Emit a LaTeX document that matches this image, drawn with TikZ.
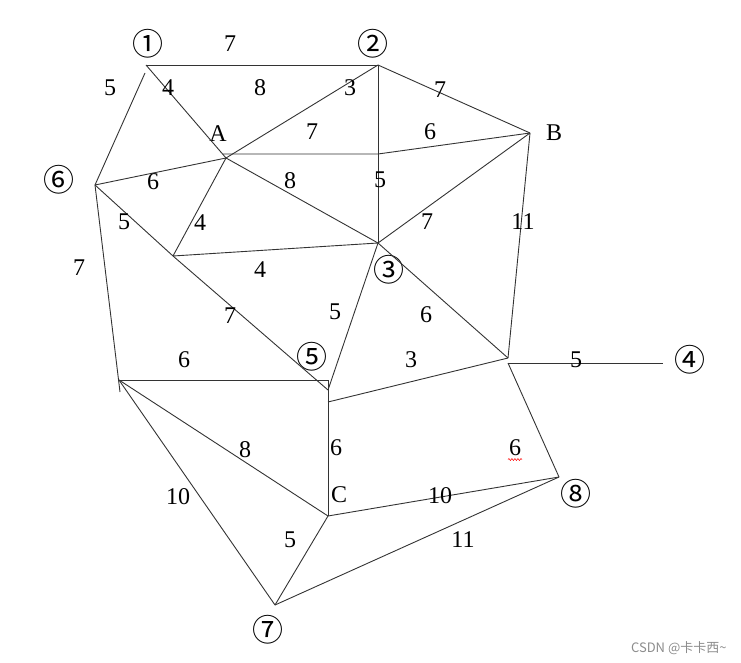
\documentclass[tikz,border=0pt]{standalone}
\usepackage{fontspec}
\setmainfont{Liberation Serif}
\newfontfamily\cjk{Noto Sans CJK SC}
\usetikzlibrary{decorations.pathmorphing}

\begin{document}
\begin{tikzpicture}[x=1pt, y=-1pt, line width=0.9pt,
    wt/.style = {font=\fontsize{24}{24}\selectfont, inner sep=0pt},
    num/.style = {font=\cjk\fontsize{31}{31}\selectfont, inner sep=0pt},
    edge/.style = {draw=black!80}]
    \useasboundingbox (0,0) rectangle (741,663);

    % corners of the drawing
    \coordinate (P1) at (146,65);
    \coordinate (P1b) at (145,73);
    \coordinate (P2) at (378,65);
    \coordinate (PA) at (226,158);
    \coordinate (PAh) at (223,154);
    \coordinate (PB) at (530,133);
    \coordinate (PM) at (378,154);
    \coordinate (P6) at (95,185);
    \coordinate (PX) at (173,256);
    \coordinate (P3) at (378,243);
    \coordinate (PL) at (119,380);
    \coordinate (PLt) at (120,392);
    \coordinate (P5) at (328,380);
    \coordinate (P5a) at (328,390);
    \coordinate (P5b) at (328,402);
    \coordinate (PC) at (328,516);
    \coordinate (PQ) at (508,358);
    \coordinate (PQh) at (508,363);
    \coordinate (P4) at (663,363);
    \coordinate (P8) at (559,477);
    \coordinate (P7) at (275,605);

    % vertex names
    \node[num] (n1) at (148,44) {①};
    \node[num] (n2) at (373,44) {②};
    \node[num] (n3) at (389,270) {③};
    \node[num] (n4) at (690,360) {④};
    \node[num] (n5) at (312,357) {⑤};
    \node[num] (n6) at (59,180) {⑥};
    \node[num] (n7) at (268,630) {⑦};
    \node[num] (n8) at (576,494) {⑧};
    \node[wt] (nA) at (218,134) {A};
    \node[wt] (nB) at (554,133) {B};
    \node[wt] (nC) at (339,495) {C};

    % lines
    \draw[edge] (P1) -- (P2);
    \draw[edge] (P1) -- (PA);
    \draw[edge] (P1b) -- (P6);
    \draw[edge] (P2) -- (PB);
    \draw[edge] (P2) -- (PA);
    \draw[edge] (P2) -- (P3);
    \draw[edge] (PAh) -- (PM) -- (PB);
    \draw[edge] (PA) -- (P6);
    \draw[edge] (PA) -- (P3);
    \draw[edge] (PA) -- (PX);
    \draw[edge] (P3) -- (PB);
    \draw[edge] (PB) -- (PQ);
    \draw[edge] (P6) -- (PX) -- (P5a);
    \draw[edge] (PX) -- (P3);
    \draw[edge] (P6) -- (PLt);
    \draw[edge] (P3) -- (P5a);
    \draw[edge] (P3) -- (PQ);
    \draw[edge] (PQh) -- (P4);
    \draw[edge] (PQh) -- (P8);
    \draw[edge] (PL) -- (P5) -- (PC);
    \draw[edge] (P5b) -- (PQ);
    \draw[edge] (PL) -- (PC);
    \draw[edge] (PL) -- (P7);
    \draw[edge] (PC) -- (P7);
    \draw[edge] (PC) -- (P8);
    \draw[edge] (P7) -- (P8);

    % weights
    \node[wt] (w12) at (230,44) {7};
    \node[wt] (w1A) at (168,88) {4};
    \node[wt] (w16) at (110,88) {5};
    \node[wt] (wT8) at (260,88) {8};
    \node[wt] (w2A) at (350,88) {3};
    \node[wt] (w2B) at (440,90) {7};
    \node[wt] (wAM) at (312,132) {7};
    \node[wt] (wMB) at (430,132) {6};
    \node[wt] (wA6) at (153,182) {6};
    \node[wt] (wA3) at (290,181) {8};
    \node[wt] (w23) at (380,180) {5};
    \node[wt] (w3B) at (427,222) {7};
    \node[wt] (wBQ) at (523,222) {11};
    \node[wt] (w6X) at (124,222) {5};
    \node[wt] (wAX) at (200,223) {4};
    \node[wt] (w6L) at (79,268) {7};
    \node[wt] (wX3) at (260,270) {4};
    \node[wt] (wX5) at (230,316) {7};
    \node[wt] (w35) at (335,312) {5};
    \node[wt] (w3Q) at (426,315) {6};
    \node[wt] (w5Q) at (411,360) {3};
    \node[wt] (wQ4) at (576,360) {5};
    \node[wt] (wL5) at (184,360) {6};
    \node[wt] (wLC) at (245,450) {8};
    \node[wt] (w5C) at (336,448) {6};
    \node[wt] (wQ8) at (515,448) {6};
    \node[wt] (wL7) at (178,497) {10};
    \node[wt] (wC8) at (440,496) {10};
    \node[wt] (wC7) at (290,540) {5};
    \node[wt] (w78) at (463,540) {11};

    % spell-check mark under the weight 6
    \draw[red, line width=0.5pt, decorate,
          decoration={snake, amplitude=1pt, segment length=3pt}]
        ([xshift=-7pt, yshift=-3pt]wQ8.south) -- ([xshift=7pt, yshift=-3pt]wQ8.south);

    \node[font=\cjk\fontsize{13}{13}\selectfont, text=black!45, anchor=east, inner sep=0pt] (mark) at (727,648) {CSDN @卡卡西\textasciitilde};
\end{tikzpicture}
\end{document}
